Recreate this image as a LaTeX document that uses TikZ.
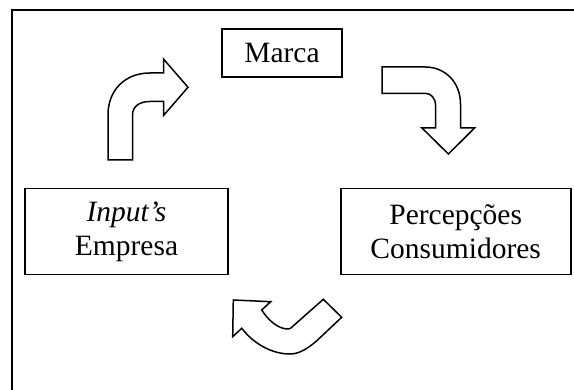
\documentclass[tikz,border=0pt]{standalone}
\usepackage{fontspec}
\setmainfont{Liberation Serif}
\begin{document}
\begin{tikzpicture}[x=1pt,y=-1pt,
  boxnode/.style={draw,line width=1.6pt,inner sep=0pt,align=center,
    font=\fontsize{29.5}{34}\selectfont},
  bigarrow/.style={draw,line width=1.5pt,line join=miter,fill=white}]
\useasboundingbox (0,0) rectangle (574,390);
\begin{scope}
\clip (0,0) rectangle (574,390);
\draw[line width=2pt] (12,10) rectangle (600,420);
\end{scope}
% boxes
\node[boxnode,minimum width=120pt,minimum height=48pt] (marca) at (282,53) {Marca};
\node[boxnode,minimum width=203pt,minimum height=86pt] (input) at (126.5,231.5)
  {{\itshape Input’s}\\Empresa};
\node[boxnode,minimum width=230pt,minimum height=86pt] (perc) at (455.7,231.5)
  {Percepções\\Consumidores};
% top-left arrow (Input's -> Marca)
\draw[bigarrow] (108,160) -- (108,115)
  .. controls (108,90) and (125,73) .. (150,73)
  -- (163.5,73) -- (163.5,59) -- (188,87.3) -- (163.5,115.5) -- (163.5,101.5)
  -- (150,101.5) .. controls (140,101.5) and (132.5,106) .. (132.5,115)
  -- (132.5,160) -- cycle;
% top-right arrow (Marca -> Percepcoes)
\draw[bigarrow] (382,67) -- (425,67)
  .. controls (446,67) and (460.5,83) .. (460.5,104)
  -- (460.5,128) -- (474.5,128) -- (448.4,154) -- (422,128) -- (435.6,128)
  -- (435.6,106) .. controls (435.6,98) and (431,93.3) .. (425,93.3)
  -- (382,93.3) -- cycle;
% bottom arrow (Percepcoes -> Input's)
\draw[bigarrow] (233.3,300) -- (270.7,301.7) -- (261.7,310)
  .. controls (268,320) and (278,329) .. (288,329)
  .. controls (290,329) and (291,328) .. (292,327)
  -- (323.3,299.3) -- (341.7,317.3) -- (316.5,341)
  .. controls (306,350) and (298,354) .. (290,354)
  .. controls (272,354) and (254,344) .. (241.7,328.3)
  -- (232.7,336.7) -- cycle;
\end{tikzpicture}
\end{document}
